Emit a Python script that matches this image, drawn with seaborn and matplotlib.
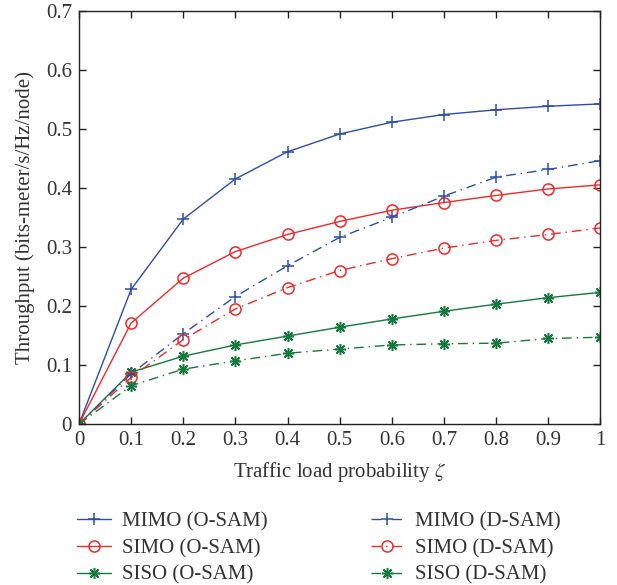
import numpy as np
import pandas as pd
import matplotlib
matplotlib.use("Agg")
import matplotlib.pyplot as plt
import seaborn as sns

# Traffic load probability values
zeta = [0.0, 0.1, 0.2, 0.3, 0.4, 0.5, 0.6, 0.7, 0.8, 0.9, 1.0]

# Throughput (bits-meter/s/Hz/node) for each scheme
mimo_osam = [0.0, 0.228, 0.347, 0.415, 0.461, 0.491, 0.511, 0.524, 0.532, 0.538, 0.542]
simo_osam = [0.0, 0.171, 0.247, 0.292, 0.321, 0.343, 0.362, 0.375, 0.387, 0.398, 0.405]
siso_osam = [0.0, 0.088, 0.115, 0.134, 0.149, 0.164, 0.178, 0.191, 0.203, 0.214, 0.223]
mimo_dsam = [0.0, 0.085, 0.153, 0.216, 0.268, 0.316, 0.350, 0.386, 0.418, 0.431, 0.446]
simo_dsam = [0.0, 0.079, 0.143, 0.195, 0.231, 0.260, 0.280, 0.298, 0.311, 0.321, 0.332]
siso_dsam = [0.0, 0.065, 0.093, 0.107, 0.120, 0.127, 0.134, 0.136, 0.137, 0.145, 0.147]

x_ticks = [0, 0.1, 0.2, 0.3, 0.4, 0.5, 0.6, 0.7, 0.8, 0.9, 1]
x_tick_labels = ["0", "0.1", "0.2", "0.3", "0.4", "0.5", "0.6", "0.7", "0.8", "0.9", "1"]
y_ticks = [0, 0.1, 0.2, 0.3, 0.4, 0.5, 0.6, 0.7]
y_tick_labels = ["0", "0.1", "0.2", "0.3", "0.4", "0.5", "0.6", "0.7"]

sns.set_theme(style="ticks")
plt.rcParams["font.family"] = ["Liberation Serif", "DejaVu Serif"]
plt.rcParams["mathtext.fontset"] = "stix"

text_color = "#333333"
BLUE = "#2c4ea8"
RED = "#ee2a2a"
GREEN = "#137a3c"
ASTERISK = (8, 2, 0)
DASHDOT = (7, 3.5, 1, 3.5)

series = [
    ("MIMO (O-SAM)", mimo_osam, BLUE, "+", "-", 9),
    ("SIMO (O-SAM)", simo_osam, RED, "o", "-", 8),
    ("SISO (O-SAM)", siso_osam, GREEN, ASTERISK, "-", 8),
    ("MIMO (D-SAM)", mimo_dsam, BLUE, "+", "dd", 9),
    ("SIMO (D-SAM)", simo_dsam, RED, "o", "dd", 8),
    ("SISO (D-SAM)", siso_dsam, GREEN, ASTERISK, "dd", 8),
]

fig = plt.figure(figsize=(6.17, 5.85), dpi=100)
ax = fig.add_axes([0.128, 0.275, 0.845, 0.707])

for name, vals, color, marker, ls, ms in series:
    df = pd.DataFrame({"zeta": zeta, "throughput": vals})
    sns.lineplot(data=df, x="zeta", y="throughput", ax=ax, color=color,
                 linewidth=1.0, marker=marker, markersize=ms,
                 markerfacecolor="none", markeredgecolor=color,
                 markeredgewidth=1.1, label=name)
    line = ax.get_lines()[-1]
    if ls == "dd":
        line.set_dashes(DASHDOT)

ax.set_xlim(0, 1)
ax.set_ylim(0, 0.7)
ax.set_xticks(x_ticks)
ax.set_xticklabels(x_tick_labels)
ax.set_yticks(y_ticks)
ax.set_yticklabels(y_tick_labels)
ax.tick_params(direction="in", top=True, right=True, length=5, width=1.0,
               labelsize=15, colors="#222222", labelcolor=text_color, pad=5)
for sp in ax.spines.values():
    sp.set_visible(True)
    sp.set_linewidth(1.0)
    sp.set_color("#222222")

ax.set_xlabel(r"Traffic load probability $\zeta$", fontsize=15,
              color=text_color, labelpad=7)
ax.set_ylabel("Throughput (bits-meter/s/Hz/node)", fontsize=15,
              color=text_color, labelpad=8)

handles, labels = ax.get_legend_handles_labels()
ax.legend(handles, labels, loc="upper left", bbox_to_anchor=(-0.039, -0.166),
          ncol=2, frameon=False, fontsize=15, handlelength=1.6,
          columnspacing=4.93, labelspacing=0.35, handletextpad=0.55,
          labelcolor=text_color)

fig.savefig("out.png", dpi=100)
